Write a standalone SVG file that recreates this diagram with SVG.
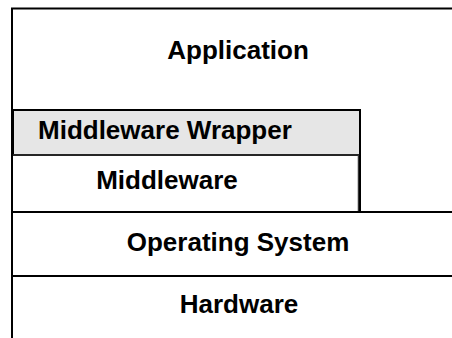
<svg xmlns="http://www.w3.org/2000/svg" width="452" height="338" viewBox="0 0 452 338">
<style>
.ln{stroke:#000;stroke-width:2;fill:none}
.t{font-family:"Liberation Sans",Arial,sans-serif;font-weight:bold;font-size:26px;fill:#000}
</style>
<rect x="0" y="0" width="452" height="338" fill="#fff"/>
<g id="application">
<path class="ln" d="M12,338 V8.5 H452"/>
<text class="t" x="238" y="59" text-anchor="middle">Application</text>
</g>
<g id="middleware-wrapper">
<rect x="13" y="110" width="347" height="45" fill="#e6e6e6" stroke="#000" stroke-width="2"/>
<text class="t" x="38" y="138.5">Middleware Wrapper</text>
</g>
<g id="middleware">
<path d="M13,155 H358.5 V212" fill="none" stroke="#333" stroke-width="1.5"/>
<path class="ln" d="M360,155 V212"/>
<text class="t" x="167" y="188.5" text-anchor="middle">Middleware</text>
</g>
<g id="operating-system">
<path class="ln" d="M12,212 H452"/>
<text class="t" x="238" y="250.5" text-anchor="middle">Operating System</text>
</g>
<g id="hardware">
<path class="ln" d="M12,276 H452"/>
<text class="t" x="239" y="313" text-anchor="middle">Hardware</text>
</g>
<g id="connectors"></g>
</svg>
